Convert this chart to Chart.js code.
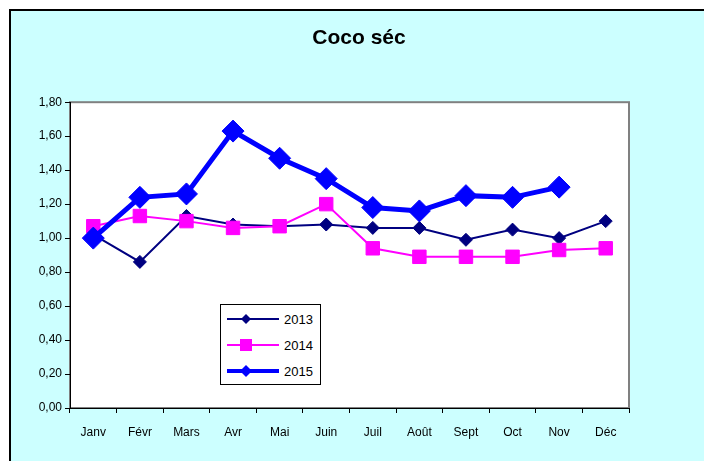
<!DOCTYPE html>
<html lang="fr">
<head>
<meta charset="utf-8">
<title>Coco séc</title>
<script src="https://cdn.jsdelivr.net/npm/chart.js@4.4.1/dist/chart.umd.min.js"></script>
<style>
    html, body { margin: 0; padding: 0; background: #fff; overflow: hidden; }
    #cadre {
        position: absolute; left: 9px; top: 9px; width: 800px; height: 600px;
        border-left: 2px solid #000; border-top: 2px solid #000;
        background: #ccffff;
    }
    #grafico { position: absolute; left: 0; top: 0; }
    #legenda {
        position: absolute; left: 220px; top: 304px; width: 99px; height: 79px;
        border: 1px solid #000; background: #fff;
        font-family: 'Liberation Sans', Arial, sans-serif; font-size: 13px; color: #000;
    }
    .item { position: absolute; left: 0; height: 16px; display: flex; align-items: center; }
    .item svg { display: block; }
    .item span { margin-left: 3px; }
</style>
</head>
<body>
<div id="cadre"></div>
<canvas id="grafico" width="704" height="461"></canvas>
<div id="legenda"></div>

<script>
// Dados
const meses = ['Janv', 'Févr', 'Mars', 'Avr', 'Mai', 'Juin', 'Juil', 'Août', 'Sept', 'Oct', 'Nov', 'Déc'];
const anos = ['2013', '2014', '2015'];
const valores2013 = [1.02, 0.86, 1.13, 1.08, 1.07, 1.08, 1.06, 1.06, 0.99, 1.05, 1.00, 1.10];
const valores2014 = [1.07, 1.13, 1.10, 1.06, 1.07, 1.20, 0.94, 0.89, 0.89, 0.89, 0.93, 0.94];
const valores2015 = [1.00, 1.24, 1.26, 1.63, 1.47, 1.35, 1.18, 1.16, 1.25, 1.24, 1.30, null];
const yMin = 0;
const yMax = 1.8;
const yPasso = 0.2;

Chart.defaults.font.family = "'Liberation Sans', Arial, sans-serif";
Chart.defaults.color = '#000';

// Fundo branco e moldura cinza da área de plotagem
const fundoPlot = {
    id: 'fundoPlot',
    beforeDraw(chart) {
        const { ctx, chartArea: a } = chart;
        ctx.save();
        ctx.fillStyle = '#fff';
        ctx.fillRect(a.left, a.top, a.right - a.left, a.bottom - a.top);
        ctx.strokeStyle = '#808080';
        ctx.lineWidth = 2;
        ctx.strokeRect(a.left, a.top, a.right - a.left, a.bottom - a.top);
        ctx.restore();
    }
};

const series = [
    { label: anos[0], data: valores2013, cor: '#000080', largura: 2, ponto: 'rectRot', raio: 6.5, ordem: 3 },
    { label: anos[1], data: valores2014, cor: '#ff00ff', largura: 2, ponto: 'rect', raio: 9.5, ordem: 2 },
    { label: anos[2], data: valores2015, cor: '#0000ff', largura: 5, ponto: 'rectRot', raio: 11, ordem: 1 }
];

new Chart(document.getElementById('grafico'), {
    type: 'line',
    data: {
        labels: meses,
        datasets: series.map(s => ({
            label: s.label,
            data: s.data,
            borderColor: s.cor,
            backgroundColor: s.cor,
            borderWidth: s.largura,
            pointStyle: s.ponto,
            pointRadius: s.raio,
            pointHoverRadius: s.raio,
            pointBorderWidth: 1,
            pointBackgroundColor: s.cor,
            pointBorderColor: s.cor,
            tension: 0,
            fill: false,
            spanGaps: false,
            order: s.ordem
        }))
    },
    options: {
        responsive: false,
        animation: false,
        devicePixelRatio: 1,
        layout: { padding: { left: 14, right: 0, top: 0, bottom: 0 } },
        plugins: {
            legend: { display: false },
            tooltip: { enabled: false },
            title: {
                display: true,
                text: 'Coco séc',
                color: '#000',
                font: { size: 21, weight: 'bold' },
                padding: { top: 26, bottom: 51 }
            }
        },
        scales: {
            x: {
                offset: true,
                grid: { offset: true, drawOnChartArea: false, drawTicks: true, tickLength: 5, color: '#000' },
                border: { display: true, color: '#000', width: 1 },
                ticks: { font: { size: 12 }, padding: 12, maxRotation: 0, autoSkip: false },
                afterFit(scale) { scale.height = 53; }
            },
            y: {
                min: yMin,
                max: yMax,
                grid: { drawOnChartArea: false, drawTicks: true, tickLength: 5, color: '#000' },
                border: { display: true, color: '#000', width: 1 },
                ticks: {
                    stepSize: yPasso,
                    font: { size: 12 },
                    padding: 3,
                    callback: v => v.toFixed(2).replace('.', ',')
                },
                afterFit(scale) { scale.width = 56; }
            },
            direita: {
                position: 'right',
                display: true,
                grid: { display: false },
                border: { display: false },
                ticks: { display: false },
                afterFit(scale) { scale.width = 75; }
            }
        }
    },
    plugins: [fundoPlot]
});

// Legenda em HTML (linha + marcador, como no Excel)
function marcador(s) {
    const cx = 25, cy = 8;
    if (s.ponto === 'rect') {
        return `<rect x="${cx - 6}" y="${cy - 6}" width="12" height="12" fill="${s.cor}"/>`;
    }
    const r = s.largura > 3 ? 6 : 5;
    return `<polygon points="${cx - r},${cy} ${cx},${cy - r} ${cx + r},${cy} ${cx},${cy + r}" fill="${s.cor}"/>`;
}

const legenda = document.getElementById('legenda');
series.forEach((s, i) => {
    const item = document.createElement('div');
    item.className = 'item';
    item.style.top = (6 + i * 26) + 'px';
    item.innerHTML =
        `<svg width="60" height="16"><line x1="6" y1="8" x2="58" y2="8" stroke="${s.cor}" stroke-width="${s.largura > 3 ? 4 : 2}"/>${marcador(s)}</svg>` +
        `<span>${s.label}</span>`;
    legenda.appendChild(item);
});
</script>
</body>
</html>
